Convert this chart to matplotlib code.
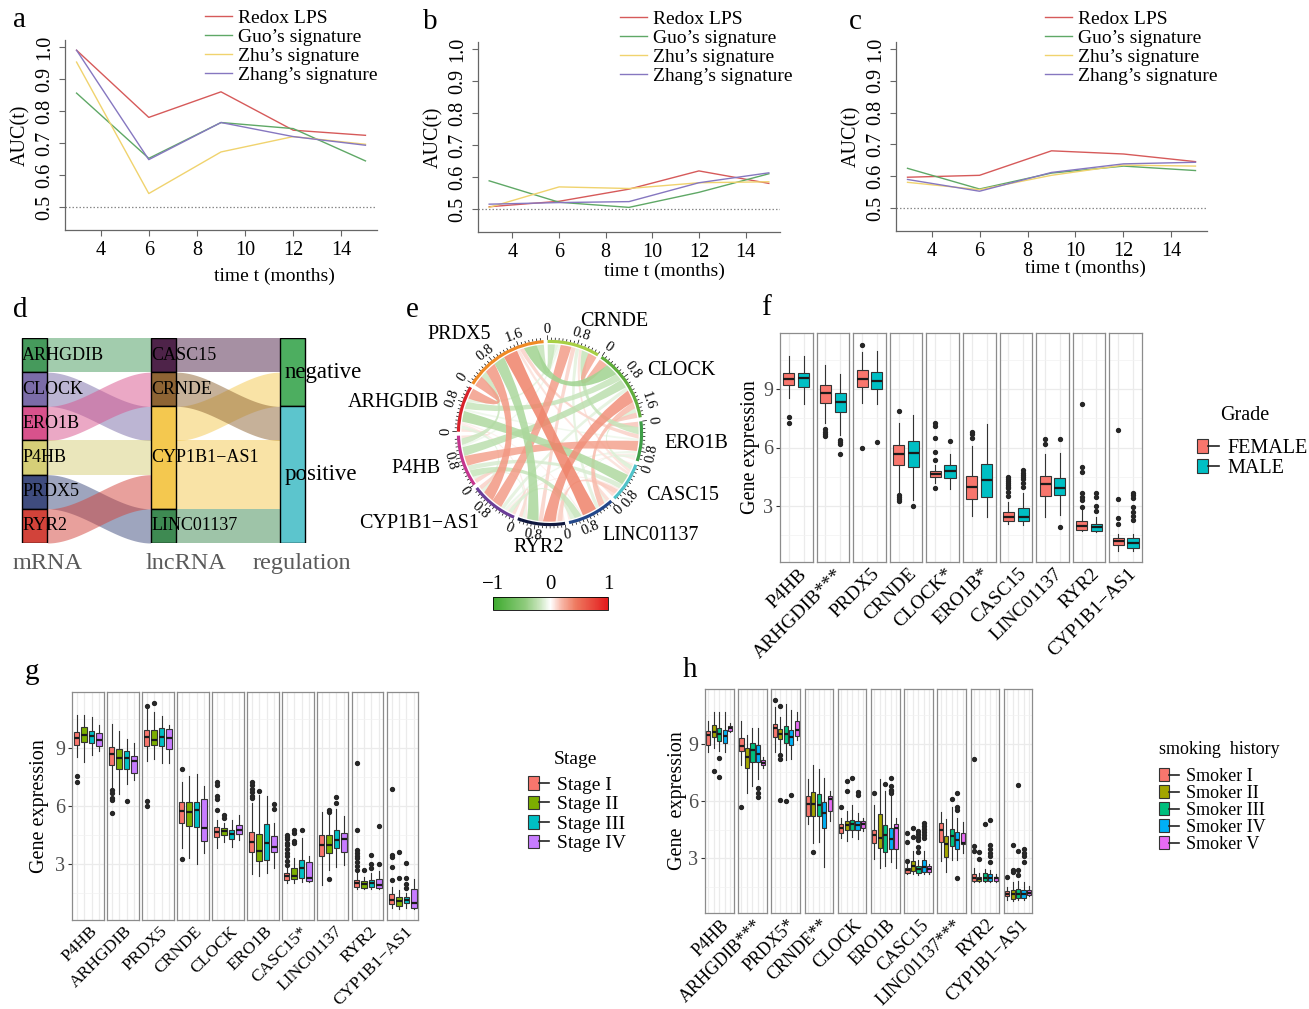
import matplotlib
matplotlib.use('Agg')
import matplotlib.pyplot as plt
import numpy as np
from matplotlib.patches import Rectangle, Patch, PathPatch, Wedge
from matplotlib.path import Path
from matplotlib.lines import Line2D
from matplotlib.collections import LineCollection
from matplotlib.colors import LinearSegmentedColormap, Normalize
from matplotlib.cm import ScalarMappable
from matplotlib.legend_handler import HandlerTuple

plt.rcParams['font.family'] = ['Liberation Serif', 'DejaVu Serif']

W, H = 1309, 1009
fig = plt.figure(figsize=(W / 100, H / 100), dpi=100)


def px_axes(x0, y0, x1, y1):
    # axes placed with pixel box (y from top)
    return fig.add_axes([x0 / W, 1 - y1 / H, (x1 - x0) / W, (y1 - y0) / H])


# ---------------- a, b, c : time dependent AUC ----------------
months = [3, 6, 9, 12, 15]
sig_names = ['Redox LPS', 'Guo’s signature', 'Zhu’s signature', 'Zhang’s signature']
sig_colors = ['#D65A5A', '#5FA866', '#F0D36E', '#8677C0']
auc_a = [[0.99, 0.78, 0.86, 0.74, 0.724],
         [0.856, 0.652, 0.764, 0.745, 0.644],
         [0.953, 0.542, 0.672, 0.72, 0.696],
         [0.99, 0.648, 0.764, 0.72, 0.693]]
auc_b = [[0.507, 0.524, 0.562, 0.619, 0.58],
         [0.588, 0.521, 0.505, 0.552, 0.61],
         [0.505, 0.569, 0.564, 0.582, 0.585],
         [0.515, 0.52, 0.523, 0.582, 0.613]]
auc_c = [[0.597, 0.603, 0.68, 0.67, 0.646],
         [0.625, 0.56, 0.61, 0.632, 0.618],
         [0.581, 0.558, 0.603, 0.635, 0.632],
         [0.59, 0.553, 0.612, 0.639, 0.644]]
month_ticks = [4, 6, 8, 10, 12, 14]
auc_ticks = [0.5, 0.6, 0.7, 0.8, 0.9, 1.0]


def auc_panel(box, vals, leg_xy, xlab_xy):
    ax = px_axes(*box)
    for name, col, v in zip(sig_names, sig_colors, vals):
        ax.plot(months, v, color=col, lw=1.0, label=name)
    ax.axhline(0.5, color='#8a8a8a', lw=0.9, ls=(0, (1.2, 1.6)))
    ax.set_xlim(2.52, 15.48)
    ax.set_ylim(0.428, 1.022)
    ax.set_xticks(month_ticks)
    ax.set_yticks(auc_ticks)
    ax.set_yticklabels(['%.1f' % t for t in auc_ticks], rotation=90, va='center')
    for s in ['top', 'right']:
        ax.spines[s].set_visible(False)
    for s in ['left', 'bottom']:
        ax.spines[s].set_color('#666666')
        ax.spines[s].set_linewidth(0.9)
    ax.tick_params(labelsize=14.5, length=4, width=0.8, color='#666666', pad=4)
    ax.set_ylabel('AUC(t)', fontsize=14.5, labelpad=3)
    fig.text(xlab_xy[0] / W, 1 - xlab_xy[1] / H, 'time t (months)',
             ha='center', va='center', fontsize=14)
    ax.legend(loc='upper left', bbox_to_anchor=(leg_xy[0] / W, 1 - leg_xy[1] / H),
              bbox_transform=fig.transFigure, frameon=False, fontsize=14,
              handlelength=1.4, handletextpad=0.3, labelspacing=0.08,
              borderpad=0, borderaxespad=0)
    return ax


auc_panel((65, 40, 377, 230), auc_a, (205, 9), (274, 276))
auc_panel((478, 42, 780, 232), auc_b, (620, 10), (664, 271))
auc_panel((896, 42, 1207, 231), auc_c, (1045, 10), (1085, 268))

# ---------------- d : alluvial ----------------
mrna = ['ARHGDIB', 'CLOCK', 'ERO1B', 'P4HB', 'PRDX5', 'RYR2']
lncrna = ['CASC15', 'CRNDE', 'CYP1B1−AS1', 'LINC01137']
regulation = ['negative', 'positive']
pair_mrna = ['ARHGDIB', 'CLOCK', 'ERO1B', 'P4HB', 'PRDX5', 'RYR2']
pair_lnc = ['CASC15', 'CYP1B1−AS1', 'CRNDE', 'CYP1B1−AS1', 'LINC01137', 'CYP1B1−AS1']
pair_reg = ['negative', 'negative', 'positive', 'positive', 'positive', 'positive']
mrna_colors = ['#469A5C', '#7B6CA8', '#D8528C', '#D6CF78', '#3F4C7E', '#D2433A']
lnc_colors = ['#4E2349', '#8E6434', '#F4C84F', '#3E8A52']
reg_colors = ['#4DAE60', '#5CC5CD']

axd = px_axes(8.7, 338, 318.3, 543)
axd.set_xlim(0.8, 3.2)
axd.set_ylim(6, 0)
axd.axis('off')
sw = 0.2


def draw_flows(xa, xb, a_vals, b_vals, a_cats, b_cats, cols):
    idx = range(len(a_vals))
    a_order = sorted(idx, key=lambda k: (a_cats.index(a_vals[k]), b_cats.index(b_vals[k]), k))
    b_order = sorted(idx, key=lambda k: (b_cats.index(b_vals[k]), a_cats.index(a_vals[k]), k))
    xs = np.linspace(xa + sw / 2, xb - sw / 2, 80)
    t = (xs - xs[0]) / (xs[-1] - xs[0])
    s = t * t * (3 - 2 * t)
    for k in idx:
        ya = a_order.index(k)
        yb = b_order.index(k)
        top = ya + (yb - ya) * s
        axd.fill_between(xs, top, top + 1, color=cols[a_cats.index(a_vals[k])],
                         alpha=0.5, lw=0)


draw_flows(1, 2, pair_mrna, pair_lnc, mrna, lncrna, mrna_colors)
draw_flows(2, 3, pair_lnc, pair_reg, lncrna, regulation, lnc_colors)

for xpos, cats, vals, cols, fs, pad in [(1, mrna, pair_mrna, mrna_colors, 13, 0.0),
                                        (2, lncrna, pair_lnc, lnc_colors, 13, 0.0),
                                        (3, regulation, pair_reg, reg_colors, 16.5, 0.03)]:
    y = 0
    for c, col in zip(cats, cols):
        n = vals.count(c)
        axd.add_patch(Rectangle((xpos - sw / 2, y), sw, n, fc=col, ec='black', lw=1.0))
        axd.text(xpos - sw / 2 + pad + 0.005, y + n / 2, c, ha='left', va='center',
                 fontsize=fs, clip_on=False)
        y += n
for xpos, lab in zip([1.1, 2.17, 3.07], ['mRNA', 'lncRNA', 'regulation']):
    axd.text(xpos, 6.6, lab, ha='center', va='center', fontsize=17.5,
             color='#5a5a5a', clip_on=False)

# ---------------- e : chord diagram ----------------
chord_genes = ['CRNDE', 'CLOCK', 'ERO1B', 'CASC15', 'LINC01137', 'RYR2',
               'CYP1B1−AS1', 'P4HB', 'ARHGDIB', 'PRDX5']
chord_colors = ['#A8CF45', '#5FAD3B', '#3E9E47', '#4FC2C9', '#23478A', '#10183F',
                '#6B3E98', '#C5358F', '#D8222A', '#F08A24']
corr_upper = [
    [0.25, -0.20, 0.08, -0.10, 0.12, 0.30, -0.06, -0.10, -0.20],
    [0.15, -0.12, 0.18, 0.35, -0.10, -0.25, -0.20, -0.36],
    [0.06, -0.08, 0.05, -0.07, 0.28, -0.06, 0.12],
    [0.10, 0.14, 0.05, -0.14, -0.30, 0.08],
    [0.06, -0.12, -0.20, 0.04, 0.40],
    [0.10, -0.08, 0.06, -0.32],
    [0.12, -0.10, 0.32],
    [0.08, -0.18],
    [0.30],
]
ng = len(chord_genes)
corr = np.zeros((ng, ng))
for i, row in enumerate(corr_upper):
    for k, v in enumerate(row):
        corr[i, i + 1 + k] = v
        corr[i + 1 + k, i] = v

link_cmap = LinearSegmentedColormap.from_list('gwr', [
    (0.0, '#3DAA2E'), (0.28, '#8FCB7D'), (0.40, '#C6E4BA'), (0.5, '#FFFFFF'),
    (0.60, '#F7B5A5'), (0.72, '#EE7A60'), (1.0, '#E31A1C')])
cnorm = Normalize(-1, 1)

axe = px_axes(420, 303, 680, 563)
axe.set_xlim(-1.4444, 1.4444)
axe.set_ylim(-1.4444, 1.4444)
axe.axis('off')

gap = 2.5
sizes = np.abs(corr).sum(axis=1)
dpu = (360 - gap * ng) / sizes.sum()
starts = []
th = -1.5
for sz in sizes:
    starts.append(th)
    th += sz * dpu + gap


def pol(theta, r):
    t = np.radians(theta)
    return np.array([r * np.sin(t), r * np.cos(t)])


# link end positions on each sector
ends = {}
for i in range(ng):
    cur = starts[i]
    others = sorted([j for j in range(ng) if j != i], key=lambda j: (i - j) % ng)
    for j in others:
        w = abs(corr[i, j]) * dpu
        ends[(i, j)] = (cur, cur + w)
        cur += w

rl = 0.985
pairs = [(i, j) for i in range(ng) for j in range(i + 1, ng)]
pairs.sort(key=lambda p: abs(corr[p]))
for i, j in pairs:
    a1, a2 = ends[(i, j)]
    b1, b2 = ends[(j, i)]
    verts, codes = [], []
    for k, tt in enumerate(np.linspace(a1, a2, 12)):
        verts.append(pol(tt, rl))
        codes.append(Path.MOVETO if k == 0 else Path.LINETO)
    c1 = (pol(a2, rl) + pol(b1, rl)) / 2 * 0.35
    verts += [c1, pol(b1, rl)]
    codes += [Path.CURVE3, Path.CURVE3]
    for tt in np.linspace(b1, b2, 12)[1:]:
        verts.append(pol(tt, rl))
        codes.append(Path.LINETO)
    c2 = (pol(b2, rl) + pol(a1, rl)) / 2 * 0.35
    verts += [c2, pol(a1, rl), pol(a1, rl)]
    codes += [Path.CURVE3, Path.CURVE3, Path.CLOSEPOLY]
    axe.add_patch(PathPatch(Path(verts, codes), fc=link_cmap(cnorm(corr[i, j])),
                            ec='none', alpha=0.85))

tick_segs = []
for i in range(ng):
    t0 = starts[i]
    t1 = t0 + sizes[i] * dpu
    axe.add_patch(Wedge((0, 0), 1.035, 90 - t1, 90 - t0, width=0.035,
                        fc=chord_colors[i], ec='none'))
    for k in range(int(sizes[i] / 0.1 + 1e-6) + 1):
        v = k * 0.1
        tt = t0 + v * dpu
        major = (k % 8 == 0)
        tick_segs.append([pol(tt, 1.035), pol(tt, 1.085 if major else 1.06)])
        if major:
            rot = -((tt + 180) % 360 - 180)
            if abs(rot) > 90:
                rot += 180
            lab = '0' if k == 0 else '%.1f' % v
            p = pol(tt, 1.15)
            axe.text(p[0], p[1], lab, rotation=rot, ha='center', va='center',
                     fontsize=10.5, rotation_mode='anchor')
    mid = (t0 + t1) / 2
    p = pol(mid, 1.278)
    m = mid % 360
    ha = 'left' if 8 < m < 172 else ('right' if 188 < m < 352 else 'center')
    axe.text(p[0], p[1], chord_genes[i], ha=ha, va='center', fontsize=14.5)
axe.add_collection(LineCollection(tick_segs, colors='black', lw=0.5))

cax = px_axes(493, 597, 608, 610)
cb = fig.colorbar(ScalarMappable(norm=cnorm, cmap=link_cmap), cax=cax,
                  orientation='horizontal', ticks=[-1, 0, 1])
cax.xaxis.set_ticks_position('top')
cax.set_xticklabels(['−1', '0', '1'])
cax.tick_params(labelsize=15, length=0, pad=2)
cb.outline.set_linewidth(0.6)

# ---------------- f, g, h : boxplots ----------------
f_labels = ['P4HB', 'ARHGDIB***', 'PRDX5', 'CRNDE', 'CLOCK*', 'ERO1B*', 'CASC15',
            'LINC01137', 'RYR2', 'CYP1B1−AS1']
f_groups = ['FEMALE', 'MALE']
f_colors = ['#F8766D', '#00BFC4']
f_stats = [
    [[8.52, 9.2, 9.51, 9.84, 10.69], [8.23, 9.12, 9.55, 9.84, 10.69]],
    [[7.27, 8.3, 8.78, 9.2, 10.23], [6.64, 7.8, 8.35, 8.78, 9.75]],
    [[8.27, 9.1, 9.5, 9.96, 10.9], [8.23, 9.02, 9.43, 9.85, 10.97]],
    [[3.65, 5.1, 5.65, 6.13, 7.24], [3.31, 5.02, 5.73, 6.33, 7.67]],
    [[4.16, 4.47, 4.64, 4.81, 5.1], [3.85, 4.45, 4.81, 5.1, 5.67]],
    [[2.49, 3.38, 3.96, 4.54, 6.08], [2.45, 3.48, 4.33, 5.14, 7.2]],
    [[2.08, 2.23, 2.42, 2.68, 3.22], [2.03, 2.23, 2.42, 2.88, 3.65]],
    [[2.45, 3.53, 4.11, 4.56, 5.67], [2.54, 3.56, 3.9, 4.45, 5.73]],
    [[1.71, 1.75, 2.0, 2.23, 2.78], [1.68, 1.71, 1.92, 2.09, 2.44]],
    [[0.68, 0.98, 1.2, 1.37, 1.58], [0.68, 0.86, 1.1, 1.37, 1.58]],
]
f_fliers = [
    [[7.58, 7.24], []],
    [[6.93, 6.8, 6.7, 6.6], [6.4, 6.3, 6.2, 5.65]],
    [[11.25, 6.0], [6.28]],
    [[7.89, 3.56, 3.45, 3.35, 3.25], [3.0]],
    [[7.24, 7.1, 6.47, 5.79, 5.36, 3.9], [6.35]],
    [[6.81, 6.7, 6.5], []],
    [[4.5, 4.4, 4.3, 4.2, 4.1, 4.0, 3.9, 3.7, 3.5], [4.85, 4.7, 4.6, 4.5, 4.4, 4.2, 4.0]],
    [[6.42, 6.16], [6.44, 1.94]],
    [[8.24, 5.0, 4.75, 3.67, 3.47, 3.3, 2.95], [3.67, 3.47, 2.99, 2.75]],
    [[6.9, 3.35, 2.4, 2.06], [3.67, 3.55, 3.4, 2.95, 2.7, 2.5, 2.3]],
]

g_labels = ['P4HB', 'ARHGDIB', 'PRDX5', 'CRNDE', 'CLOCK', 'ERO1B', 'CASC15*',
            'LINC01137', 'RYR2', 'CYP1B1−AS1']
g_groups = ['Stage I', 'Stage II', 'Stage III', 'Stage IV']
g_colors = ['#F8766D', '#7CAE00', '#00BFC4', '#C77CFF']
g_stats = [
    [[8.52, 9.12, 9.5, 9.8, 10.69], [8.26, 9.29, 9.68, 10.06, 10.69], [8.64, 9.24, 9.6, 9.84, 10.6], [8.83, 9.07, 9.38, 9.75, 10.15]],
    [[6.9, 8.13, 8.66, 9.03, 10.23], [6.64, 7.89, 8.49, 8.95, 9.85], [7.15, 7.92, 8.49, 8.81, 9.46], [7.36, 7.7, 8.3, 8.56, 9.24]],
    [[8.3, 9.09, 9.55, 9.89, 11.03], [8.44, 9.15, 9.41, 9.89, 10.83], [8.23, 9.07, 9.55, 10.03, 10.62], [8.23, 8.95, 9.5, 9.97, 10.18]],
    [[3.82, 5.1, 5.73, 6.21, 7.24], [3.34, 4.98, 5.7, 6.21, 7.55], [3.0, 4.93, 5.79, 6.21, 7.67], [3.56, 4.2, 4.88, 6.35, 7.02]],
    [[3.85, 4.42, 4.68, 4.93, 5.27], [4.16, 4.5, 4.71, 4.88, 5.1], [3.9, 4.3, 4.56, 4.76, 5.27], [4.25, 4.56, 4.76, 5.02, 5.56]],
    [[2.49, 3.62, 4.13, 4.64, 6.13], [2.42, 3.17, 3.68, 4.56, 6.56], [2.54, 3.21, 4.08, 5.09, 6.52], [2.8, 3.65, 3.87, 4.44, 5.1]],
    [[2.03, 2.2, 2.37, 2.54, 2.8], [2.03, 2.25, 2.4, 2.8, 3.3], [2.11, 2.28, 2.8, 3.22, 4.37], [2.11, 2.15, 2.28, 3.1, 3.4]],
    [[1.94, 3.4, 3.99, 4.5, 5.67], [2.7, 3.56, 3.99, 4.5, 5.6], [2.88, 3.82, 4.25, 4.76, 5.87], [2.95, 3.63, 4.28, 4.6, 5.46]],
    [[1.71, 1.81, 2.02, 2.19, 2.53], [1.71, 1.76, 1.96, 2.13, 2.36], [1.71, 1.81, 2.02, 2.19, 2.56], [1.71, 1.79, 1.93, 2.22, 2.66]],
    [[0.75, 0.97, 1.18, 1.46, 1.84], [0.7, 0.87, 1.09, 1.31, 1.67], [0.75, 1.0, 1.18, 1.29, 1.5], [0.7, 0.75, 1.01, 1.74, 2.22]],
]
g_fliers = [
    [[7.55, 7.24], [], [], []],
    [[6.81, 6.65, 6.4, 6.3, 5.65], [], [6.25], []],
    [[11.17, 6.26, 6.0], [11.3], [], []],
    [[7.92, 3.27], [], [], []],
    [[7.24, 7.07, 6.5, 6.35, 5.79], [5.56, 5.4], [], []],
    [[7.24, 7.1, 6.9, 6.7, 6.5, 6.4], [6.76], [], [6.08, 5.87]],
    [[4.5, 4.4, 4.3, 4.1, 4.0, 3.8, 3.6, 3.4, 3.15, 2.95], [4.75, 4.6, 4.2, 4.1], [4.76], []],
    [[], [5.8, 5.7, 2.25], [6.47, 6.13], []],
    [[8.23, 4.74, 3.72, 3.6, 3.45, 3.3, 3.1, 2.9, 2.7], [2.73], [3.46, 3.0, 2.8], [4.99, 2.99]],
    [[6.9, 3.5, 3.35, 2.87, 2.19], [3.63, 2.27], [3.04, 2.27, 2.0, 1.76], []],
]

h_labels = ['P4HB', 'ARHGDIB***', 'PRDX5*', 'CRNDE**', 'CLOCK', 'ERO1B', 'CASC15',
            'LINC01137***', 'RYR2', 'CYP1B1−AS1']
h_groups = ['Smoker I', 'Smoker II', 'Smoker III', 'Smoker IV', 'Smoker V']
h_colors = ['#F8766D', '#A3A500', '#00BF7D', '#00B0F6', '#E76BF3']
h_stats = [
    [[8.57, 8.95, 9.47, 9.66, 10.17], [8.78, 9.34, 9.64, 10.0, 10.67], [8.6, 9.17, 9.52, 9.83, 10.64], [8.57, 9.05, 9.4, 9.72, 10.64], [9.6, 9.66, 9.83, 9.95, 10.09]],
    [[7.88, 8.6, 8.88, 9.31, 10.2], [6.41, 7.71, 8.28, 8.79, 9.48], [6.76, 8.02, 8.66, 9.03, 9.83], [7.16, 8.05, 8.48, 8.91, 9.81], [7.71, 7.88, 8.0, 8.14, 8.31]],
    [[8.57, 9.38, 9.81, 10.03, 10.95], [8.57, 9.26, 9.52, 9.78, 10.38], [8.14, 9.03, 9.52, 9.91, 11.07], [8.22, 8.95, 9.34, 9.72, 10.78], [9.21, 9.43, 9.74, 10.17, 10.64]],
    [[4.81, 5.21, 5.84, 6.24, 7.16], [3.78, 5.24, 5.86, 6.45, 7.88], [3.83, 5.24, 5.78, 6.36, 7.67], [2.53, 4.57, 5.38, 5.95, 7.22], [4.95, 5.5, 6.1, 6.24, 6.53]],
    [[4.05, 4.34, 4.6, 4.81, 5.12], [3.91, 4.48, 4.72, 4.95, 5.5], [4.09, 4.48, 4.78, 5.03, 5.78], [4.0, 4.48, 4.72, 4.95, 5.38], [4.43, 4.57, 4.78, 4.95, 5.12]],
    [[2.97, 3.79, 4.22, 4.48, 5.81], [2.5, 3.52, 4.05, 5.33, 7.16], [2.57, 3.34, 4.22, 4.74, 6.53], [2.79, 3.48, 4.0, 4.57, 6.41], [2.48, 3.48, 4.57, 4.78, 5.09]],
    [[2.16, 2.24, 2.4, 2.5, 2.71], [2.16, 2.31, 2.59, 2.88, 3.36], [2.1, 2.24, 2.45, 2.57, 2.91], [2.16, 2.28, 2.53, 2.91, 3.4], [2.19, 2.28, 2.45, 2.59, 2.71]],
    [[2.86, 3.84, 4.5, 4.85, 5.4], [2.29, 3.08, 3.76, 4.19, 5.06], [2.91, 3.64, 4.19, 4.54, 5.71], [2.9, 3.5, 3.98, 4.36, 5.1], [3.29, 3.76, 3.81, 4.33, 4.88]],
    [[1.73, 1.79, 1.99, 2.17, 2.51], [1.73, 1.79, 1.91, 2.03, 2.22], [1.73, 1.79, 1.94, 2.22, 2.43], [1.73, 1.82, 1.99, 2.17, 2.37], [1.73, 1.82, 1.94, 2.04, 2.17]],
    [[0.83, 1.0, 1.14, 1.3, 1.48], [0.78, 0.87, 1.14, 1.35, 1.73], [0.83, 0.9, 1.14, 1.38, 1.82], [0.8, 0.9, 1.14, 1.35, 1.75], [1.02, 1.09, 1.2, 1.35, 1.55]],
]
h_fliers = [
    [[], [7.57], [8.26, 7.24], [], []],
    [[5.67], [], [], [6.7, 6.4, 6.2], []],
    [[11.29], [10.98, 8.4, 8.22, 6.07], [6.02], [6.29], []],
    [[], [3.31], [], [], []],
    [[5.67], [7.05, 6.5], [7.22], [6.47, 6.33], []],
    [[6.41], [], [6.88], [7.22, 6.76, 6.6, 6.5, 6.4], []],
    [[4.31, 3.83, 2.88], [4.57, 4.09], [4.43, 4.26, 4.1, 3.95, 3.6, 3.33], [4.86, 4.7, 4.55, 4.4, 4.2, 4.05], []],
    [[], [], [6.11], [6.4, 5.71, 5.55, 1.94], []],
    [[8.22, 3.64, 3.38], [3.34, 2.94], [4.8], [4.99, 3.67, 3.5, 3.3, 3.1, 2.8], []],
    [[2.0], [3.67, 2.4, 2.3], [6.86, 3.37, 2.4, 2.1], [3.5, 3.3, 3.1, 2.8], []],
]


def box_panel(labels, colors, stats, fliers, left, width, step, top, bottom, ylab,
              lab_fs, ylab_pad):
    ng_ = len(colors)
    for gi, lab in enumerate(labels):
        x0 = left + gi * step
        ax = px_axes(x0, top, x0 + width, bottom)
        bstats = []
        for s, fl in zip(stats[gi], fliers[gi]):
            bstats.append(dict(whislo=s[0], q1=s[1], med=s[2], q3=s[3], whishi=s[4], fliers=fl))
        res = ax.bxp(bstats, positions=range(1, ng_ + 1), widths=0.75, patch_artist=True,
                     showcaps=False,
                     boxprops=dict(edgecolor='#333333', lw=0.8),
                     whiskerprops=dict(color='#333333', lw=0.8),
                     medianprops=dict(color='#1a1a1a', lw=1.6),
                     flierprops=dict(marker='o', markersize=2.8, markerfacecolor='#262626',
                                     markeredgecolor='#262626'))
        for b, c in zip(res['boxes'], colors):
            b.set_facecolor(c)
        ax.set_xlim(0.4, ng_ + 0.6)
        ax.set_ylim(0.13, 11.87)
        ax.set_xticks(range(1, ng_ + 1))
        ax.set_yticks([3, 6, 9])
        ax.set_yticks([1.5, 4.5, 7.5, 10.5], minor=True)
        ax.grid(True, which='major', color='#EBEBEB', lw=0.9)
        ax.grid(True, which='minor', axis='y', color='#F2F2F2', lw=0.5)
        ax.set_axisbelow(True)
        for s in ax.spines.values():
            s.set_color('#8C8C8C')
            s.set_linewidth(0.9)
        ax.tick_params(axis='x', length=0, labelbottom=False)
        ax.tick_params(axis='y', which='minor', length=0)
        if gi == 0:
            ax.tick_params(axis='y', length=3, color='#333333', labelsize=14.5,
                           labelcolor='#4D4D4D', pad=2)
            ax.set_ylabel(ylab, fontsize=14.5, labelpad=ylab_pad)
        else:
            ax.tick_params(axis='y', length=0, labelleft=False)
        ax.text(0.55, -0.015, lab, transform=ax.transAxes, rotation=45, ha='right',
                va='top', rotation_mode='anchor', fontsize=lab_fs)


def box_legend(groups, colors, title, title_xy, title_ha, xy, fs, spacing):
    fig.text(title_xy[0] / W, 1 - title_xy[1] / H, title, ha=title_ha, va='center',
             fontsize=fs)
    handles = [(Patch(facecolor=c, edgecolor='#333333', lw=0.8),
                Line2D([], [], color='#222222', lw=1.2)) for c in colors]
    fig.legend(handles, groups, handler_map={tuple: HandlerTuple(ndivide=None, pad=0)},
               loc='upper left', bbox_to_anchor=(xy[0] / W, 1 - xy[1] / H),
               frameon=False, fontsize=fs, handlelength=1.1, handleheight=0.7,
               handletextpad=0.4, labelspacing=spacing, borderpad=0, borderaxespad=0)


box_panel(f_labels, f_colors, f_stats, f_fliers, 780, 32.5, 36.6, 333, 562,
          'Gene expression', 14, 2)
box_legend(f_groups, f_colors, 'Grade', (1245, 415), 'center', (1197, 439), 14.5, 0.05)

box_panel(g_labels, g_colors, g_stats, g_fliers, 72, 31.5, 35.0, 692, 920,
          'Gene expression', 12.6, 4)
box_legend(g_groups, g_colors, 'Stage', (575, 760), 'center', (528, 776), 14, 0.1)

box_panel(h_labels, h_colors, h_stats, h_fliers, 705, 28.5, 33.2, 689, 913,
          'Gene  expression', 13.0, 1)
box_legend(h_groups, h_colors, 'smoking  history', (1159, 750), 'left', (1159, 768), 13, 0.0)

# panel letters
for lab, x, y in [('a', 20, 20), ('b', 430, 22), ('c', 855, 22), ('d', 20, 310),
                  ('e', 412, 310), ('f', 766, 308), ('g', 32, 672), ('h', 690, 670)]:
    fig.text(x / W, 1 - y / H, lab, fontsize=21, ha='center', va='center')

fig.savefig('out.png', dpi=100)
